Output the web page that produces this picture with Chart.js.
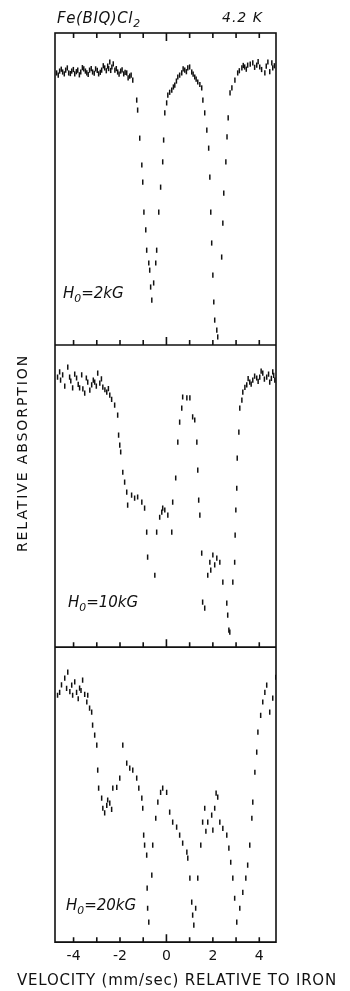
<!DOCTYPE html>
<html>
<head>
<meta charset="utf-8">
<script src="https://cdn.jsdelivr.net/npm/chart.js@4.4.1/dist/chart.umd.min.js"></script>
<style>
  html, body { margin: 0; padding: 0; background: #fff; }
  #wrap { position: relative; width: 350px; height: 991px; overflow: hidden; }
  #spectra { position: absolute; left: 0; top: 0; }
  .lbl { position: absolute; font-family: 'DejaVu Sans', sans-serif; font-style: italic; color: #111; white-space: nowrap; line-height: 1; }
  .lbl sub { font-size: 0.72em; vertical-align: -0.35em; line-height: 0; }
  #compound { left: 57px; top: 11px; font-size: 15px; letter-spacing: 0.6px; }
  #temp { left: 222px; top: 10px; font-size: 14px; letter-spacing: 1px; }
  #field2 { left: 63px; top: 286px; font-size: 15px; }
  #field10 { left: 68px; top: 595px; font-size: 15px; }
  #field20 { left: 66px; top: 898px; font-size: 15px; }
  #ytitle { position: absolute; left: -108px; top: 445px; width: 260px; text-align: center;
            font-family: 'DejaVu Sans', sans-serif; font-size: 14px; letter-spacing: 1.9px; color: #111;
            transform: rotate(-90deg); line-height: 16px; }
  #xtitle { position: absolute; left: 0; top: 972px; width: 354px; text-align: center;
            font-family: 'DejaVu Sans', sans-serif; font-size: 15px; letter-spacing: 0.8px; color: #111;
            line-height: 16px; white-space: nowrap; }
</style>
</head>
<body>
<div id="wrap">
  <canvas id="spectra" width="350" height="991"></canvas>
  <div class="lbl" id="compound">Fe(BIQ)Cl<sub>2</sub></div>
  <div class="lbl" id="temp">4.2 K</div>
  <div class="lbl" id="field2">H<sub>0</sub>=2kG</div>
  <div class="lbl" id="field10">H<sub>0</sub>=10kG</div>
  <div class="lbl" id="field20">H<sub>0</sub>=20kG</div>
  <div id="ytitle">RELATIVE ABSORPTION</div>
  <div id="xtitle">VELOCITY (mm/sec) RELATIVE TO IRON</div>
</div>
<script>
// velocity (mm/sec) and relative transmission (% of panel height)
const VEL_TICKS = [-4, -3, -2, -1, 0, 1, 2, 3, 4];

const VEL_2KG = [-4.73, -4.66, -4.60, -4.53, -4.47, -4.40, -4.34, -4.27, -4.21, -4.14, -4.08, -4.01, -3.95, -3.88, -3.82, -3.75,
  -3.69, -3.62, -3.56, -3.49, -3.43, -3.37, -3.31, -3.24, -3.18, -3.11, -3.05, -2.98, -2.92, -2.85, -2.79, -2.72,
  -2.66, -2.59, -2.53, -2.49, -2.44, -2.40, -2.35, -2.29, -2.22, -2.16, -2.10, -2.04, -1.97, -1.91, -1.84, -1.78,
  -1.71, -1.65, -1.58, -1.52, -1.45, -1.28, -1.24, -1.15, -1.06, -1.02, -0.97, -0.89, -0.85, -0.76, -0.72, -0.68,
  -0.63, -0.55, -0.46, -0.42, -0.33, -0.25, -0.16, -0.12, -0.07, 0.01, 0.06, 0.14, 0.23, 0.30, 0.36, 0.43,
  0.49, 0.57, 0.66, 0.72, 0.79, 0.86, 0.92, 1.00, 1.09, 1.15, 1.22, 1.28, 1.35, 1.44, 1.52, 1.57,
  1.65, 1.74, 1.82, 1.87, 1.91, 1.95, 2.00, 2.04, 2.08, 2.17, 2.21, 2.38, 2.43, 2.47, 2.56, 2.61,
  2.66, 2.74, 2.82, 2.95, 3.07, 3.14, 3.25, 3.31, 3.37, 3.44, 3.50, 3.61, 3.72, 3.80, 3.89, 3.95,
  4.02, 4.10, 4.24, 4.30, 4.37, 4.45, 4.54, 4.58, 4.65];
const REL_2KG = [87.2, 86.5, 87.8, 88.4, 87.5, 86.9, 88.1, 88.8, 87.2, 87.0, 87.8, 88.3, 86.9, 87.6, 88.1, 86.6,
  87.5, 88.9, 88.5, 87.8, 87.2, 86.7, 88.1, 88.6, 87.5, 87.1, 88.5, 88.0, 86.9, 87.4, 88.1, 89.5,
  88.8, 87.9, 89.4, 88.6, 90.7, 88.0, 89.1, 90.1, 88.1, 88.6, 87.5, 86.8, 87.8, 88.2, 86.9, 87.4,
  87.2, 85.6, 86.2, 86.5, 84.9, 78.5, 75.3, 66.3, 57.7, 52.2, 42.6, 36.9, 30.4, 26.3, 24.0, 18.6,
  14.4, 19.9, 26.3, 30.4, 42.6, 50.6, 58.7, 65.7, 74.4, 77.6, 80.1, 81.0, 81.7, 82.7, 83.3, 84.6,
  85.9, 86.5, 87.2, 88.5, 88.1, 87.6, 88.8, 89.1, 87.5, 86.8, 85.9, 85.2, 84.3, 83.5, 82.4, 78.5,
  74.4, 68.9, 63.1, 53.8, 42.6, 32.7, 22.4, 13.8, 8.0, 4.8, 2.6, 28.2, 39.1, 48.7, 58.7, 66.7,
  72.8, 80.8, 82.4, 84.9, 87.2, 87.9, 88.8, 89.6, 89.1, 88.4, 89.7, 90.0, 90.4, 89.0, 89.7, 90.8,
  89.1, 88.3, 87.2, 89.4, 90.7, 87.6, 90.4, 88.8, 89.5];

const VEL_10KG = [-4.69, -4.60, -4.56, -4.47, -4.38, -4.25, -4.17, -4.12, -4.04, -3.95, -3.87, -3.80, -3.74, -3.65, -3.60, -3.52,
  -3.45, -3.39, -3.30, -3.22, -3.15, -3.09, -3.02, -2.96, -2.87, -2.80, -2.74, -2.65, -2.57, -2.50, -2.44, -2.36,
  -2.23, -2.10, -2.06, -2.01, -1.97, -1.88, -1.80, -1.71, -1.67, -1.50, -1.37, -1.24, -1.06, -0.94, -0.85, -0.81,
  -0.50, -0.42, -0.29, -0.20, -0.16, -0.07, 0.06, 0.23, 0.27, 0.40, 0.49, 0.57, 0.66, 0.70, 0.88, 1.01,
  1.13, 1.22, 1.31, 1.35, 1.39, 1.44, 1.52, 1.56, 1.65, 1.78, 1.87, 1.91, 2.00, 2.08, 2.17, 2.30,
  2.43, 2.60, 2.64, 2.69, 2.73, 2.86, 2.94, 2.96, 2.99, 3.03, 3.05, 3.12, 3.16, 3.25, 3.29, 3.38,
  3.46, 3.52, 3.59, 3.65, 3.72, 3.80, 3.89, 3.95, 4.02, 4.08, 4.15, 4.22, 4.32, 4.40, 4.45, 4.52,
  4.58, 4.62, 4.67];
const REL_10KG = [89.4, 91.1, 88.4, 90.1, 86.4, 92.7, 89.4, 88.1, 85.8, 90.4, 89.1, 87.0, 85.8, 90.1, 85.5, 84.1,
  89.1, 87.7, 85.1, 86.8, 88.4, 87.7, 86.4, 90.7, 87.4, 88.8, 86.1, 85.2, 84.4, 85.6, 83.4, 82.0,
  80.1, 76.8, 70.2, 66.9, 64.6, 57.9, 54.6, 51.3, 47.0, 50.3, 49.3, 49.7, 48.0, 46.0, 38.1, 29.8,
  23.8, 38.1, 43.0, 44.7, 46.0, 45.4, 43.7, 38.1, 48.0, 56.0, 67.9, 74.5, 79.1, 82.8, 82.5, 82.5,
  76.2, 75.2, 67.9, 58.6, 48.7, 43.7, 31.1, 14.9, 12.9, 23.8, 28.1, 25.5, 30.5, 27.2, 29.5, 28.1,
  21.5, 14.6, 10.6, 5.6, 5.0, 21.5, 28.1, 37.1, 45.4, 52.6, 62.6, 71.2, 79.1, 81.8, 84.4, 86.0,
  86.8, 88.9, 87.7, 87.1, 88.4, 89.7, 89.1, 88.0, 89.4, 91.4, 90.7, 88.7, 89.4, 90.4, 87.7, 89.0,
  91.1, 90.0, 88.4];

const VEL_20KG = [-4.69, -4.60, -4.52, -4.38, -4.30, -4.25, -4.16, -4.08, -4.04, -3.95, -3.87, -3.80, -3.74, -3.68, -3.61, -3.52,
  -3.43, -3.39, -3.31, -3.22, -3.18, -3.09, -3.00, -2.96, -2.92, -2.79, -2.74, -2.66, -2.57, -2.53, -2.44, -2.36,
  -2.31, -2.14, -2.01, -1.88, -1.71, -1.58, -1.45, -1.28, -1.19, -1.06, -1.02, -0.98, -0.94, -0.85, -0.83, -0.81,
  -0.76, -0.63, -0.59, -0.46, -0.37, -0.25, -0.16, 0.01, 0.14, 0.27, 0.44, 0.57, 0.70, 0.88, 0.92, 1.01,
  1.09, 1.13, 1.18, 1.26, 1.35, 1.48, 1.56, 1.65, 1.70, 1.78, 1.95, 2.00, 2.08, 2.14, 2.21, 2.30,
  2.43, 2.60, 2.69, 2.77, 2.86, 2.94, 3.03, 3.16, 3.29, 3.42, 3.50, 3.59, 3.68, 3.72, 3.81, 3.89,
  3.94, 4.06, 4.15, 4.24, 4.32, 4.45, 4.58, 4.71];
const REL_20KG = [83.7, 84.7, 87.2, 89.5, 86.0, 91.5, 84.9, 87.1, 83.7, 88.2, 84.7, 82.5, 86.1, 85.3, 88.8, 84.0,
  81.4, 83.7, 79.3, 78.0, 73.6, 70.2, 66.8, 58.3, 52.2, 48.8, 45.4, 43.8, 46.4, 48.2, 47.1, 45.0,
  52.2, 52.5, 55.6, 66.8, 60.7, 59.0, 58.3, 55.6, 52.2, 48.8, 45.4, 36.3, 32.9, 29.5, 18.3, 11.5,
  6.8, 22.7, 32.9, 42.0, 47.5, 50.8, 52.2, 50.8, 44.1, 40.7, 39.0, 36.3, 33.6, 30.5, 28.5, 21.7,
  13.6, 9.2, 5.8, 11.5, 21.7, 32.9, 40.7, 45.4, 37.6, 40.7, 43.1, 38.0, 45.4, 50.5, 49.2, 40.7,
  38.6, 36.3, 31.9, 27.1, 21.7, 14.9, 6.8, 11.5, 16.9, 21.7, 26.1, 32.9, 42.0, 47.5, 57.6, 64.4,
  71.2, 76.9, 81.4, 84.7, 87.1, 78.0, 82.7, 89.8];

const INK = '#111';

const panel = (vel, rel, axis) => ({
  data: vel.map((v, i) => ({x: v, y: rel[i]})),
  yAxisID: axis,
  pointStyle: 'line',
  rotation: 90,
  pointRadius: 2.6,
  pointHoverRadius: 2.6,
  borderWidth: 1.5,
  borderColor: INK,
  backgroundColor: INK
});

// panel frames with inward tick marks
const frame = {
  id: 'frame',
  afterDatasetsDraw(chart) {
    const {ctx, chartArea: a, scales} = chart;
    const x = scales.x;
    ctx.save();
    ctx.strokeStyle = INK;
    ctx.lineWidth = 1.6;
    ctx.strokeRect(a.left, a.top, a.right - a.left, a.bottom - a.top);
    ['y2', 'y10', 'y20'].forEach((id, i) => {
      const y = scales[id];
      ctx.beginPath();
      ctx.moveTo(a.left, y.bottom);
      ctx.lineTo(a.right, y.bottom);
      VEL_TICKS.forEach(v => {
        const px = x.getPixelForValue(v);
        const len = v === 0 ? 8 : 5;
        ctx.moveTo(px, y.bottom);
        ctx.lineTo(px, y.bottom - len);
        if (i === 0) {
          ctx.moveTo(px, y.top);
          ctx.lineTo(px, y.top + len);
        }
      });
      ctx.stroke();
    });
    ctx.restore();
  }
};

const hiddenY = (weight) => ({
  stack: 'spectra',
  stackWeight: weight,
  min: 0,
  max: 100,
  display: false
});

new Chart(document.getElementById('spectra'), {
  type: 'scatter',
  data: {
    datasets: [
      panel(VEL_2KG, REL_2KG, 'y2'),
      panel(VEL_10KG, REL_10KG, 'y10'),
      panel(VEL_20KG, REL_20KG, 'y20')
    ]
  },
  options: {
    responsive: false,
    animation: false,
    devicePixelRatio: 1,
    events: [],
    layout: {padding: {left: 55, right: 74, top: 33, bottom: 20}},
    plugins: {legend: {display: false}, tooltip: {enabled: false}},
    scales: {
      x: {
        type: 'linear',
        min: -4.8,
        max: 4.72,
        afterBuildTicks: (scale) => { scale.ticks = VEL_TICKS.map(v => ({value: v})); },
        grid: {display: false, drawTicks: false},
        border: {display: false},
        ticks: {
          color: INK,
          autoSkip: false,
          maxRotation: 0,
          padding: 6,
          font: {family: 'DejaVu Sans', size: 14},
          callback: (v) => (v % 2 === 0 ? String(v) : '')
        }
      },
      y20: hiddenY(295),
      y10: hiddenY(302),
      y2: hiddenY(312)
    }
  },
  plugins: [frame]
});
</script>
</body>
</html>
